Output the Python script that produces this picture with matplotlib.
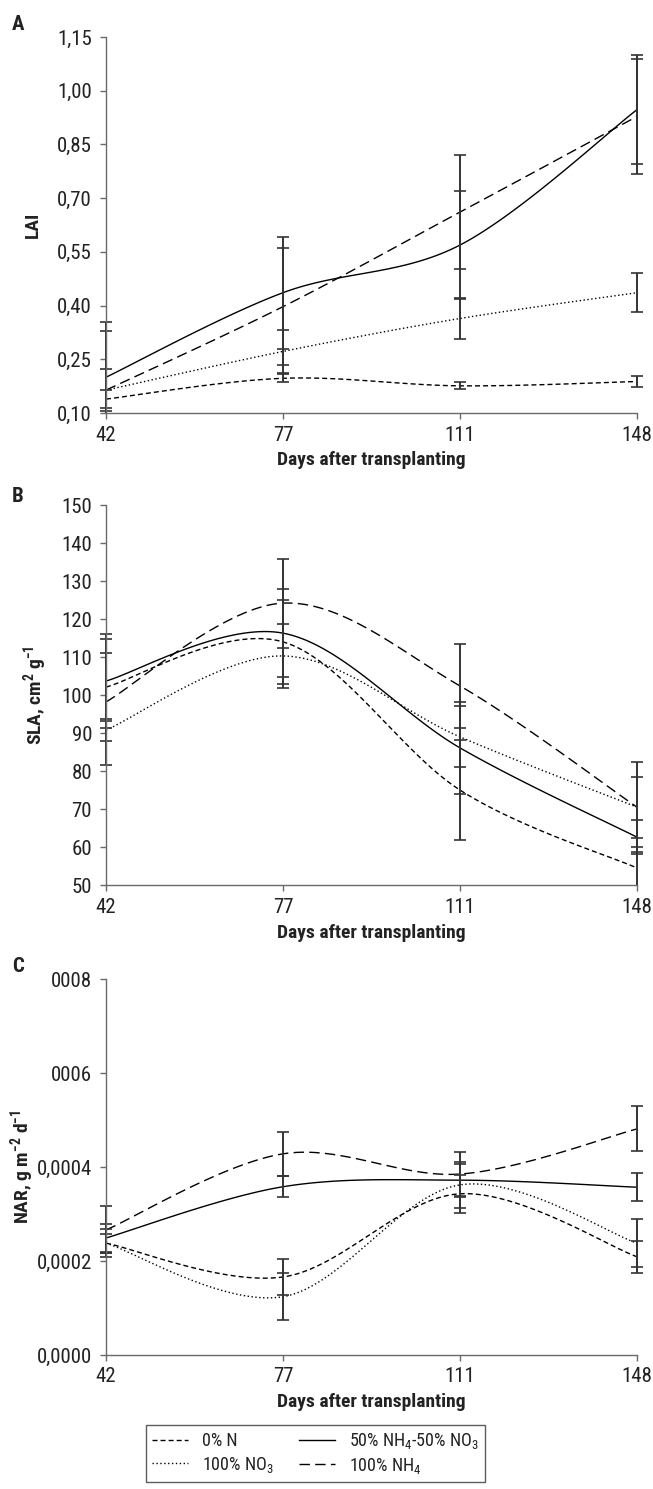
import numpy as np
import matplotlib
matplotlib.use('Agg')
import matplotlib.pyplot as plt
from matplotlib.lines import Line2D
from matplotlib.patches import Rectangle
from matplotlib import font_manager

# the original uses a condensed sans; take the narrowest one installed
fonts = font_manager.fontManager.ttflist
base_font, base_stretch = 'Roboto', 'normal'
for name in ['Liberation Sans Narrow', 'Roboto Condensed', 'DejaVu Sans', 'Open Sans', 'Noto Sans']:
    hits = [f for f in fonts if f.name == name and
            (f.stretch in ('condensed', 'semi-condensed', 'extra-condensed') or 'Narrow' in name or 'Condensed' in name)]
    if hits:
        base_font, base_stretch = name, hits[0].stretch
        break
plt.rcParams['font.family'] = [base_font, 'DejaVu Sans']
plt.rcParams['font.stretch'] = base_stretch
plt.rcParams['mathtext.default'] = 'regular'

days = ['42', '77', '111', '148']

# LAI
lai_0n = [0.139, 0.197, 0.176, 0.188]
lai_0n_err = [0.025, 0.011, 0.010, 0.016]
lai_no3 = [0.164, 0.272, 0.364, 0.436]
lai_no3_err = [0.058, 0.061, 0.058, 0.054]
lai_mix = [0.200, 0.436, 0.569, 0.947]
lai_mix_err = [0.153, 0.156, 0.152, 0.153]
lai_nh4 = [0.164, 0.397, 0.661, 0.928]
lai_nh4_err = [0.164, 0.164, 0.158, 0.160]

# SLA
sla_0n = [102.1, 114.0, 75.0, 54.5]
sla_0n_err = [9.0, 11.0, 13.2, 5.5]
sla_no3 = [90.8, 110.3, 89.0, 70.5]
sla_no3_err = [3.0, 8.5, 8.0, 8.0]
sla_mix = [103.7, 116.3, 86.1, 62.6]
sla_mix_err = [12.4, 11.6, 12.1, 4.5]
sla_nh4 = [98.2, 124.2, 102.4, 70.5]
sla_nh4_err = [16.6, 11.7, 11.0, 11.9]

# NAR
nar_0n = [0.000238, 0.000166, 0.000343, 0.000209]
nar_0n_err = [0.000020, 0.000038, 0.000040, 0.000034]
nar_no3 = [0.000238, 0.000124, 0.000362, 0.000238]
nar_no3_err = [0.000030, 0.000050, 0.000049, 0.000051]
nar_mix = [0.000249, 0.000358, 0.000372, 0.000357]
nar_mix_err = [0.000030, 0.000022, 0.000035, 0.000030]
nar_nh4 = [0.000266, 0.000428, 0.000385, 0.000481]
nar_nh4_err = [0.000050, 0.000047, 0.000047, 0.000048]

lai_ticks = [0.10, 0.25, 0.40, 0.55, 0.70, 0.85, 1.00, 1.15]
lai_ticklabels = ['0,10', '0,25', '0,40', '0,55', '0,70', '0,85', '1,00', '1,15']
sla_ticks = [50, 60, 70, 80, 90, 100, 110, 120, 130, 140, 150]
sla_ticklabels = [str(t) for t in sla_ticks]
nar_ticks = [0.0, 0.0002, 0.0004, 0.0006, 0.0008]
nar_ticklabels = ['0,0000', '0,0002', '0,0004', '0006', '0008']

labels = ['0% N', '100% NO$_3$', '50% NH$_4$-50% NO$_3$', '100% NH$_4$']
styles = [(0, (3.6, 2.2)), (0, (1.0, 1.8)), '-', (0, (7.5, 3.8))]


def smooth(xs, ys, n=40):
    # bezier smoothing like the spreadsheet "smoothed line" option
    p = np.column_stack([xs, ys]).astype(float)
    pts = np.vstack([p[0], p, p[-1]])
    t = np.linspace(0, 1, n)[1:, None]
    out = [p[:1]]
    for i in range(len(p) - 1):
        p0, p1, p2, p3 = pts[i], pts[i + 1], pts[i + 2], pts[i + 3]
        c1 = p1 + (p2 - p0) / 6
        c2 = p2 - (p3 - p1) / 6
        seg = (1 - t) ** 3 * p1 + 3 * (1 - t) ** 2 * t * c1 + 3 * (1 - t) * t ** 2 * c2 + t ** 3 * p2
        out.append(seg)
    return np.vstack(out)


def panel(ax, series, errs, ticks, ticklabels, ylabel, label_x):
    x = np.arange(len(days))
    for ys, style in zip(series, styles):
        s = smooth(x, ys)
        ax.plot(s[:, 0], s[:, 1], color='black', lw=1.0, linestyle=style)
    # clip error bars only top/bottom so the bars on the edges stay whole
    clip = Rectangle((-0.03, 0), 1.06, 1, transform=ax.transAxes, fill=False)
    for ys, err in zip(series, errs):
        eb = ax.errorbar(x, ys, yerr=err, fmt='none', ecolor='#333333', elinewidth=1.4,
                         capsize=4, capthick=1.2)
        for art in eb.get_children():
            art.set_clip_path(clip)
    ax.set_xlim(0, 3)
    ax.set_ylim(ticks[0], ticks[-1])
    ax.set_xticks(x)
    ax.set_xticklabels(days)
    ax.set_yticks(ticks)
    ax.set_yticklabels(ticklabels)
    for side in ['top', 'right']:
        ax.spines[side].set_visible(False)
    for side in ['left', 'bottom']:
        ax.spines[side].set_color('#6a6a6a')
        ax.spines[side].set_linewidth(1.0)
    ax.tick_params(axis='both', colors='#6a6a6a', labelcolor='#222222', labelsize=15,
                   length=4, width=1.0)
    ax.tick_params(axis='x', pad=5)
    ax.tick_params(axis='y', pad=6)
    ax.set_xlabel('Days after transplanting', fontsize=14, fontweight='bold', color='#222222',
                  labelpad=5)
    ax.set_ylabel(ylabel, fontsize=14, fontweight='bold', color='#222222', va='center')
    ax.yaxis.set_label_coords(label_x, 0.5)


fig = plt.figure(figsize=(6.53, 14.89), dpi=100)
ax1 = fig.add_axes([0.1623, 0.7226, 0.8132, 0.2526])
ax2 = fig.add_axes([0.1623, 0.4056, 0.8132, 0.2552])
ax3 = fig.add_axes([0.1623, 0.0900, 0.8132, 0.2525])

panel(ax1, [lai_0n, lai_no3, lai_mix, lai_nh4],
      [lai_0n_err, lai_no3_err, lai_mix_err, lai_nh4_err],
      lai_ticks, lai_ticklabels, 'LAI', (33 - 106) / 531)
panel(ax2, [sla_0n, sla_no3, sla_mix, sla_nh4],
      [sla_0n_err, sla_no3_err, sla_mix_err, sla_nh4_err],
      sla_ticks, sla_ticklabels, 'SLA, cm$^{2}$ g$^{-1}$', (35 - 106) / 531)
panel(ax3, [nar_0n, nar_no3, nar_mix, nar_nh4],
      [nar_0n_err, nar_no3_err, nar_mix_err, nar_nh4_err],
      nar_ticks, nar_ticklabels, 'NAR, g m$^{-2}$ d$^{-1}$', (22 - 106) / 531)

for letter, ypos in [('A', 1 - 25 / 1489), ('B', 1 - 497 / 1489), ('C', 1 - 967 / 1489)]:
    fig.text(18 / 653, ypos, letter, fontsize=15, fontweight='bold', color='#222222',
             ha='center', va='center')

handles = [Line2D([], [], color='black', lw=1.0, linestyle=s) for s in styles]
leg = fig.legend(handles, labels, ncol=2, loc='lower left', borderaxespad=0,
                 bbox_to_anchor=(146 / 653, 1 - 1482 / 1489),
                 fontsize=13, frameon=True, fancybox=False, handlelength=2.0,
                 borderpad=0.35, labelspacing=0.25, columnspacing=1.4, handletextpad=0.75)
leg.get_frame().set_edgecolor('#333333')
leg.get_frame().set_linewidth(1.0)
for t in leg.get_texts():
    t.set_color('#222222')

fig.savefig('out.png', dpi=100)
